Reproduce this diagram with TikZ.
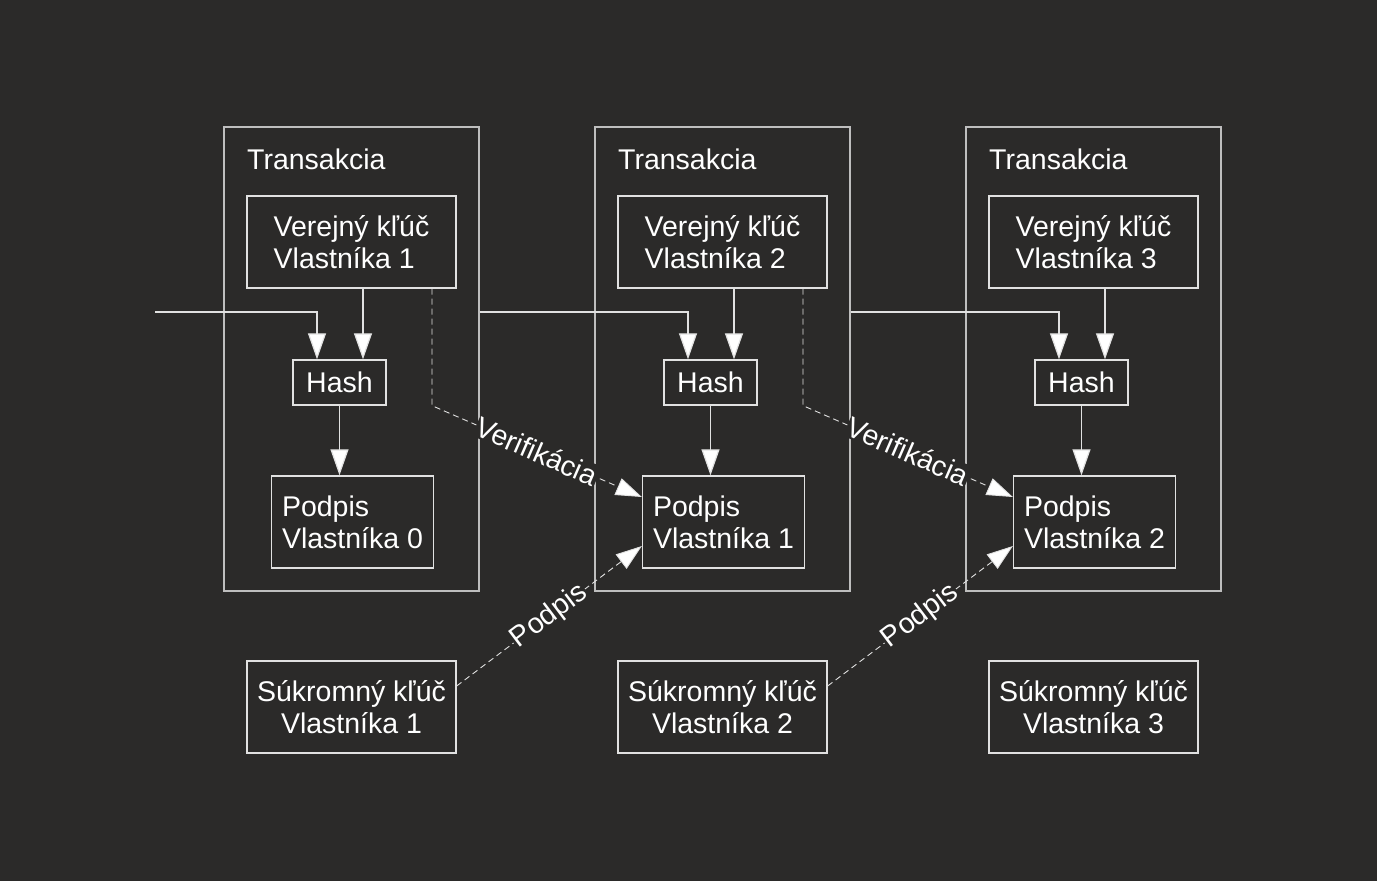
\documentclass[tikz,border=0pt]{standalone}
\usepackage{fontspec}
\setmainfont{Liberation Sans}
\usepackage{tikz}
\usetikzlibrary{arrows.meta, positioning}

\begin{document}
\begin{tikzpicture}[x=1pt, y=-1pt,
    every node/.style={font=\fontsize{28.5}{32}\selectfont, text=white},
    txbox/.style={draw=colOut, line width=1.3pt, minimum width=255pt, minimum height=464pt},
    keybox/.style={draw=colIn, line width=1.3pt, minimum width=209pt, minimum height=92pt, inner sep=0pt},
    hashbox/.style={draw=colIn, line width=1.3pt, minimum width=93pt, minimum height=45pt, inner sep=0pt},
    sigbox/.style={draw=colIn, line width=1.3pt, minimum width=162pt, minimum height=92pt, inner sep=0pt},
    arr/.style={draw=colIn, line width=1.2pt, -{Triangle[length=26pt, width=18pt, fill=white]}},
    dasharr/.style={draw=colIn, line width=0.9pt, dash pattern=on 6pt off 4pt, -{Triangle[length=26pt, width=18pt, fill=white]}},
    lbl/.style={sloped, fill=colBg, inner sep=1pt}]

% ------------------------
% Colors
% ------------------------
\definecolor{colBg}{RGB}{43,42,41}
\definecolor{colOut}{RGB}{190,190,190}
\definecolor{colIn}{RGB}{225,225,225}

% background / margins
\fill[colBg] (0,0) rectangle (1377,881);

% shift between the transactions
\def\dx{371}

% ------------------------
% Transactions
% ------------------------
\foreach \i in {0,1,2} {
    \pgfmathtruncatemacro{\n}{\i+1}
    \node[txbox] (tx\i) at (351.5+\i*\dx, 359) {};
    \node[anchor=west, inner sep=0pt] (title\i) at (247+\i*\dx, 159) {Transakcia};
    \node[keybox, align=left] (pub\i) at (351.5+\i*\dx, 242) {Verejný kľúč\\Vlastníka \n};
    \node[hashbox] (hash\i) at (339.5+\i*\dx, 382.5) {Hash};
    \node[sigbox, align=left] (sig\i) at (352.5+\i*\dx, 522) {Podpis\\Vlastníka \i};
    \node[keybox, align=center] (priv\i) at (351.5+\i*\dx, 707) {Súkromný kľúč\\Vlastníka \n};

    % public key -> hash -> signature
    \draw[arr] ([xshift=23.5pt]hash\i.north |- pub\i.south) -- ([xshift=23.5pt]hash\i.north);
    \draw[arr] (hash\i.south) -- (hash\i.south |- sig\i.north);
}

% ------------------------
% Chain of hashes
% ------------------------
\coordinate (in) at (155, 312);
\draw[arr] (in) -| ([xshift=-22.5pt]hash0.north);
\foreach \i/\j in {0/1, 1/2} {
    \draw[arr] (tx\i.east |- in) -| ([xshift=-22.5pt]hash\j.north);
}

% ------------------------
% Verification and signing
% ------------------------
\foreach \i/\j in {0/1, 1/2} {
    \draw[dasharr] ([xshift=80.5pt]pub\i.south) -- ([xshift=80.5pt]pub\i.south |- hash\i.south)
        -- node[lbl] (ver\i) {Verifikácia} ([yshift=25pt]sig\j.west);
    \draw[dasharr] ([yshift=21pt]priv\i.east) -- node[lbl] (sign\i) {Podpis} ([yshift=-24pt]sig\j.west);
}

\end{tikzpicture}
\end{document}
